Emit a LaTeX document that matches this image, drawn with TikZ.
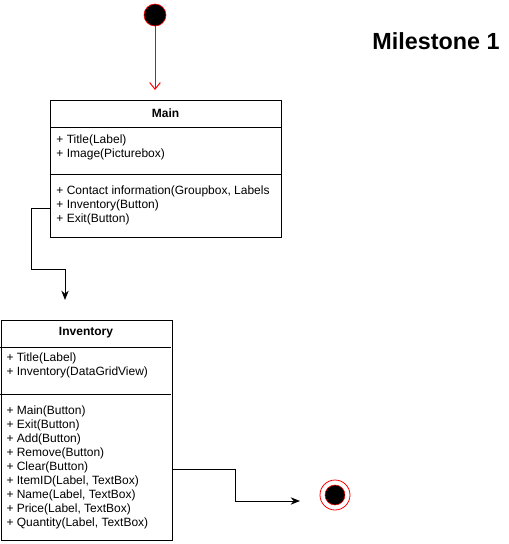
\documentclass[tikz,border=0pt]{standalone}
\usepackage{fontspec}
\setmainfont{Liberation Sans}
\usetikzlibrary{arrows.meta}

\begin{document}
\begin{tikzpicture}[x=0.75pt,y=-0.75pt,line width=0.75pt,
  font=\fontsize{9}{11}\selectfont,
  classbox/.style={draw, anchor=north west, inner sep=0},
  item/.style={anchor=west, inner sep=0},
  header/.style={font=\fontsize{9}{11}\selectfont\bfseries},
  flow/.style={-{Stealth[length=7pt,width=5.5pt]}}]
\useasboundingbox (0,0) rectangle (509,544);
%\fill [gray!15] (0,0) rectangle (509,544);
\node[circle, fill=black, draw=red, line width=0.5pt, minimum size=16.5pt, inner sep=0] (start) at (155,15) {};
\coordinate (c0) at (155,90);
\draw[red, -{Straight Barb[length=5pt,width=8pt]}] (start) -- (c0);

\node[classbox, minimum width=173.25pt, minimum height=102.75pt] (main) at (50,100) {};
\node[header] (mainT) at (165.5,113) {Main};
\draw (50,127) -- (281,127);
\draw (50,174) -- (281,174);
\foreach \t [count=\i] in {Title(Label), Image(Picturebox)}
  \node[item] (ma\i) at (56,126+14*\i) {+ \t};
\foreach \t [count=\i] in {{Contact information(Groupbox, Labels}, Inventory(Button), Exit(Button)}
  \node[item] (mm\i) at (56,177+14*\i) {+ \t};

\node[classbox, minimum width=128.25pt, minimum height=165pt] (inv) at (0.5,320) {};
\node[header] (invT) at (86,333) {Inventory};
\draw (0.5,347) -- (171,347);
\draw (0.5,394) -- (171,394);
\foreach \t [count=\i] in {Title(Label), Inventory(DataGridView)}
  \node[item] (ia\i) at (6,344+14*\i) {+ \t};
\foreach \t [count=\i] in {Main(Button), Exit(Button), Add(Button), Remove(Button), Clear(Button),
  {ItemID(Label, TextBox)}, {Name(Label, TextBox)}, {Price(Label, TextBox)}, {Quantity(Label, TextBox)}}
  \node[item] (im\i) at (6,397+14*\i) {+ \t};

\coordinate (c1) at (65,300);
\draw[flow] ([yshift=-2.25pt]main.west |- mm2) -| (31,269) -| (c1);
\coordinate (c2) at (300,501);
\draw[flow] ([yshift=-1.5pt]inv.east |- im5) -| (235,501) -- (c2);

\node[circle, draw=red, fill=white, line width=0.6pt, minimum size=22.5pt, inner sep=0] (end) at (335,495) {};
\fill[black, draw=red, line width=0.4pt] (end.center) circle (7.5pt);

\node[font=\fontsize{17.5}{20}\selectfont\bfseries] (ms) at (436,41) {Milestone 1};
\end{tikzpicture}
\end{document}
